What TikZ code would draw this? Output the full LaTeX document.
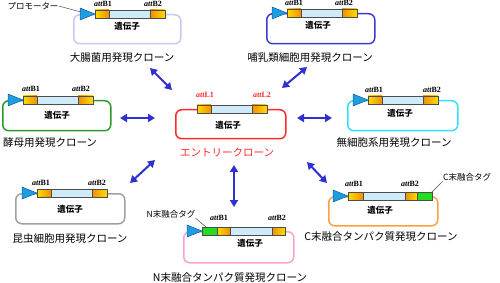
\documentclass[tikz,border=0pt]{standalone}
\usepackage{fontspec}
\setmainfont{Noto Sans CJK JP}
\newfontfamily\tms{Liberation Serif}
\usetikzlibrary{arrows.meta}
\definecolor{promo}{HTML}{1E9EE0}
\definecolor{promoline}{HTML}{1060A0}
\definecolor{lblue}{HTML}{CFEAF8}
\definecolor{ylwA}{HTML}{FFDC00}
\definecolor{orgA}{HTML}{F09000}
\definecolor{tagg}{HTML}{22DD22}
\definecolor{arrowc}{HTML}{3030D0}
\definecolor{cEcoli}{HTML}{C8C8F4}
\definecolor{cMammal}{HTML}{3C3CC8}
\definecolor{cYeast}{HTML}{2A9A2A}
\definecolor{cEntry}{HTML}{FF2A2A}
\definecolor{cCell}{HTML}{33DFFF}
\definecolor{cInsect}{HTML}{A0A0A0}
\definecolor{cCterm}{HTML}{FFA040}
\definecolor{cNterm}{HTML}{FF9FD0}
\tikzset{
  clonebox/.style={draw, line width=1.5pt, rounded corners=6pt, anchor=north west, inner sep=0pt},
  barline/.style={draw=black!70, line width=0.5pt},
  triline/.style={draw=promoline, line width=0.5pt, fill=promo},
  gene/.style={font=\fontsize{8.5}{8.5}\selectfont\bfseries, inner sep=0pt},
  att/.style={font=\tms\bfseries\fontsize{8}{8}\selectfont, inner sep=0pt},
  lbl/.style={font=\fontsize{10.5}{10.5}\selectfont, inner sep=0pt},
  tag/.style={font=\fontsize{8.5}{8.5}\selectfont, inner sep=0pt},
  biarrow/.style={draw=arrowc, line width=2pt, {Triangle[length=7pt,width=8pt]}-{Triangle[length=7pt,width=8pt]}},
  leader/.style={draw=black!70, line width=0.5pt}
}
\newcommand\promtri[2]{\draw[triline] (#1-15,#2-6) -- (#1,#2) -- (#1-15,#2+6) -- cycle;}
\newcommand\stdbar[2]{%
  \shade[left color=ylwA,right color=orgA] (#1,#2-4) rectangle (#1+14,#2+4);
  \fill[lblue] (#1+14,#2-4) rectangle (#1+55,#2+4);
  \shade[left color=orgA,right color=ylwA] (#1+55,#2-4) rectangle (#1+70,#2+4);
  \draw[barline] (#1,#2-4) rectangle (#1+70,#2+4) (#1+14,#2-4) -- (#1+14,#2+4) (#1+55,#2-4) -- (#1+55,#2+4);
}
\begin{document}
\begin{tikzpicture}[x=1pt,y=-1pt]
\useasboundingbox (0,0) rectangle (500,283);

% ---------- boxes ----------
\node[clonebox, draw=cEcoli, minimum width=107pt, minimum height=29pt] (ecoli) at (73,14) {};
\node[clonebox, draw=cMammal, minimum width=108pt, minimum height=30pt] (mammal) at (266,13) {};
\node[clonebox, draw=cYeast, minimum width=108pt, minimum height=30pt] (yeast) at (2,100) {};
\node[clonebox, draw=cEntry, minimum width=110pt, minimum height=29pt] (entry) at (175,109) {};
\node[clonebox, draw=cCell, minimum width=110pt, minimum height=30pt] (cell) at (347,100) {};
\node[clonebox, draw=cInsect, minimum width=109pt, minimum height=30pt] (insect) at (15,193) {};
\node[clonebox, draw=cCterm, minimum width=109pt, minimum height=29pt] (cterm) at (328,196) {};
\node[clonebox, draw=cNterm, minimum width=110pt, minimum height=31pt] (nterm) at (183,231) {};

% ---------- bars ----------
\promtri{95}{14}\stdbar{95}{14}
\promtri{287}{13}\stdbar{287}{13}
\promtri{23}{100}\stdbar{23}{100}
\stdbar{197}{109}
\promtri{368}{100}\stdbar{368}{100}
\promtri{37}{193}\stdbar{37}{193}
% C-terminal tag bar
\promtri{348}{196}
\shade[left color=ylwA,right color=orgA] (348,192) rectangle (363,200);
\fill[lblue] (363,192) rectangle (405,200);
\shade[left color=orgA,right color=ylwA] (405,192) rectangle (417,200);
\fill[tagg] (417,192) rectangle (432,200);
\draw[barline] (348,192) rectangle (432,200) (363,192) -- (363,200) (405,192) -- (405,200) (417,192) -- (417,200);
% N-terminal tag bar
\promtri{202}{231}
\fill[tagg] (202,227) rectangle (217,235);
\shade[left color=ylwA,right color=orgA] (217,227) rectangle (230,235);
\fill[lblue] (230,227) rectangle (272,235);
\shade[left color=orgA,right color=ylwA] (272,227) rectangle (285,235);
\draw[barline] (202,227) rectangle (285,235) (217,227) -- (217,235) (230,227) -- (230,235) (272,227) -- (272,235);

% ---------- att labels ----------
\node[att] (e1) at (103,4) {{\itshape att}B1};
\node[att] (e2) at (153,4) {{\itshape att}B2};
\node[att] (m1) at (294,3) {{\itshape att}B1};
\node[att] (m2) at (344,3) {{\itshape att}B2};
\node[att] (y1) at (31,89) {{\itshape att}B1};
\node[att] (y2) at (81,89) {{\itshape att}B2};
\node[att, text=cEntry] (n1) at (205,95) {{\itshape att}L1};
\node[att, text=cEntry] (n2) at (262,95) {{\itshape att}L2};
\node[att] (c1) at (374,90) {{\itshape att}B1};
\node[att] (c2) at (432,90) {{\itshape att}B2};
\node[att] (i1) at (41,183) {{\itshape att}B1};
\node[att] (i2) at (97,183) {{\itshape att}B2};
\node[att] (t1) at (354,184) {{\itshape att}B1};
\node[att] (t2) at (410,184) {{\itshape att}B2};
\node[att] (u1) at (219,218) {{\itshape att}B1};
\node[att] (u2) at (277,218) {{\itshape att}B2};

% ---------- gene labels ----------
\node[gene] (ge) at (127,26) {遺伝子};
\node[gene] (gm) at (318,25) {遺伝子};
\node[gene] (gy) at (57,115) {遺伝子};
\node[gene] (gn) at (228,125) {遺伝子};
\node[gene] (gc) at (400,113) {遺伝子};
\node[gene] (gi) at (70,209) {遺伝子};
\node[gene] (gt) at (380,210) {遺伝子};
\node[gene] (gu) at (250,243) {遺伝子};

% ---------- clone labels ----------
\node[lbl] (le) at (122,58) {大腸菌用発現クローン};
\node[lbl] (lm) at (310,58) {哺乳類細胞用発現クローン};
\node[lbl] (ly) at (50,143) {酵母用発現クローン};
\node[lbl, text=cEntry] (ln) at (227,152) {エントリークローン};
\node[lbl] (lc) at (394,143) {無細胞系用発現クローン};
\node[lbl] (li) at (70,239) {昆虫細胞用発現クローン};
\node[lbl] (lt) at (381,237) {C末融合タンパク質発現クローン};
\node[lbl] (lu) at (230,278) {N末融合タンパク質発現クローン};

% ---------- tags ----------
\node[tag] (prom) at (33,6) {プロモーター};
\coordinate (promE) at (81,12);
\draw[leader] (prom.east) -- (promE);
\node[tag, anchor=west] (ctag) at (443,177) {C末融合タグ};
\coordinate (ctagE) at (431,193);
\draw[leader] (ctag.south west) -- (ctagE);
\node[tag] (ntag) at (171,214) {N末融合タグ};
\coordinate (ntagE) at (207,228);
\draw[leader] (ntag.south east) -- (ntagE);

% ---------- arrows ----------
\coordinate (a1s) at (150,68);  \coordinate (a1e) at (172,90);
\coordinate (a2s) at (282,88);  \coordinate (a2e) at (307,67);
\coordinate (a3s) at (120,118); \coordinate (a3e) at (155,118);
\coordinate (a4s) at (297,118); \coordinate (a4e) at (332,118);
\coordinate (a5s) at (130,183); \coordinate (a5e) at (155,160);
\coordinate (a6s) at (307,162); \coordinate (a6e) at (327,183);
\coordinate (a7s) at (234,165); \coordinate (a7e) at (234,207);
\draw[biarrow] (a1s) -- (a1e);
\draw[biarrow] (a2s) -- (a2e);
\draw[biarrow] (a3s) -- (a3e);
\draw[biarrow] (a4s) -- (a4e);
\draw[biarrow] (a5s) -- (a5e);
\draw[biarrow] (a6s) -- (a6e);
\draw[biarrow] (a7s) -- (a7e);
\end{tikzpicture}
\end{document}
